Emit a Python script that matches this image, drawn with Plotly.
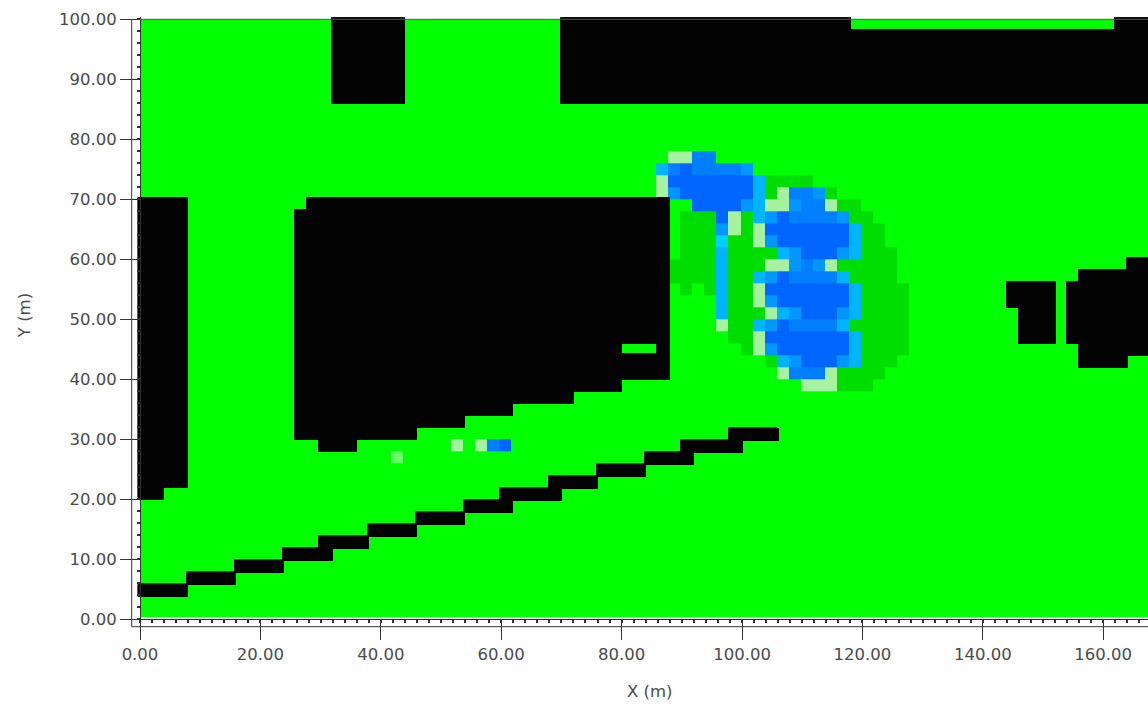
import numpy as np
import plotly.graph_objects as go

N_COLS = 84
N_ROWS = 50
CELL_X = 2.003
CELL_Y = 2.0
ORIGIN_X = -0.4
TOP_Y = 100.0

CLASS_NAMES = [".", "B", "G", "L", "P", "T", "C", "N", "M", "D"]
CLASS_COLORS = ["#00ff00", "#030303", "#00dd00", "#66ff66", "#a6f2a0",
                "#00d0ff", "#00b4ff", "#0098ff", "#0080ff", "#0066ff"]

# (first column, last column, first row, last row), rows counted from the top
BUILDING_BLOCKS = [
    (16, 21, 0, 6), (35, 83, 0, 6),
    (0, 3, 15, 38), (0, 1, 39, 39),
    (14, 43, 15, 15), (13, 14, 16, 34), (15, 17, 16, 35), (18, 22, 16, 34),
    (23, 26, 16, 33), (27, 30, 16, 32), (31, 35, 16, 31), (36, 39, 16, 30),
    (40, 43, 16, 29),
    (72, 75, 22, 23), (73, 75, 24, 26),
    (77, 77, 22, 26), (78, 81, 21, 28), (82, 83, 20, 27),
]
RAIL_BLOCKS = [
    (0, 3, 47, 47), (4, 7, 46, 46), (8, 11, 45, 45), (12, 15, 44, 44),
    (15, 18, 43, 43), (19, 22, 42, 42), (23, 26, 41, 41), (27, 30, 40, 40),
    (30, 34, 39, 39), (34, 37, 38, 38), (38, 41, 37, 37), (42, 45, 36, 36),
    (45, 49, 35, 35), (49, 52, 34, 34),
]
OPEN_BLOCKS = [(59, 80, 0, 0), (40, 42, 27, 27)]

# row: (class, first column, last column)
CELL_RUNS = {
    11: [("P", 44, 45), ("M", 46, 47)],
    12: [("C", 43, 43), ("M", 44, 44), ("D", 45, 45), ("M", 46, 49), ("N", 50, 50)],
    13: [("P", 43, 43), ("D", 44, 50), ("C", 51, 51), ("G", 52, 55)],
    14: [("P", 43, 43), ("N", 44, 44), ("D", 45, 50), ("C", 51, 51), ("G", 52, 52),
         ("P", 53, 53), ("M", 54, 55), ("N", 56, 56), ("G", 57, 57)],
    15: [("D", 46, 49), ("N", 50, 50), ("C", 51, 51), ("P", 52, 53), ("N", 54, 54),
         ("M", 55, 56), ("P", 57, 57), ("G", 58, 59)],
    16: [("G", 45, 47), ("D", 48, 48), ("P", 49, 49), ("G", 50, 50), ("C", 51, 51),
         ("N", 52, 52), ("D", 53, 53), ("M", 54, 57), ("N", 58, 58), ("G", 59, 60)],
    17: [("G", 45, 47), ("N", 48, 48), ("P", 49, 49), ("G", 50, 50), ("P", 51, 51),
         ("D", 52, 58), ("C", 59, 59), ("G", 60, 61)],
    18: [("G", 45, 47), ("T", 48, 48), ("G", 49, 50), ("P", 51, 51), ("N", 52, 52),
         ("D", 53, 58), ("C", 59, 59), ("G", 60, 61)],
    19: [("G", 45, 47), ("C", 48, 48), ("G", 49, 52), ("C", 53, 53), ("N", 54, 54),
         ("D", 55, 57), ("N", 58, 58), ("C", 59, 59), ("G", 60, 62)],
    20: [("G", 44, 47), ("C", 48, 48), ("G", 49, 51), ("P", 52, 53), ("N", 54, 54),
         ("M", 55, 55), ("N", 56, 56), ("P", 57, 57), ("G", 58, 62)],
    21: [("G", 44, 47), ("C", 48, 48), ("G", 49, 50), ("C", 51, 51), ("N", 52, 52),
         ("D", 53, 53), ("M", 54, 57), ("C", 58, 58), ("G", 59, 62)],
    22: [("G", 45, 45), ("G", 47, 47), ("C", 48, 48), ("G", 49, 50), ("P", 51, 51),
         ("D", 52, 58), ("C", 59, 59), ("G", 60, 63)],
    23: [("C", 48, 48), ("G", 49, 50), ("P", 51, 51), ("N", 52, 52), ("D", 53, 58),
         ("C", 59, 59), ("G", 60, 63)],
    24: [("C", 48, 48), ("G", 49, 51), ("P", 52, 52), ("C", 53, 53), ("N", 54, 54),
         ("D", 55, 57), ("N", 58, 58), ("C", 59, 59), ("G", 60, 63)],
    25: [("P", 48, 48), ("G", 49, 50), ("C", 51, 51), ("N", 52, 52), ("D", 53, 53),
         ("M", 54, 57), ("C", 58, 58), ("G", 59, 63)],
    26: [("G", 49, 50), ("P", 51, 51), ("D", 52, 58), ("C", 59, 59), ("G", 60, 63)],
    27: [("G", 50, 50), ("P", 51, 51), ("N", 52, 52), ("D", 53, 58), ("C", 59, 59),
         ("G", 60, 63)],
    28: [("G", 52, 52), ("C", 53, 53), ("N", 54, 54), ("D", 55, 57), ("N", 58, 58),
         ("C", 59, 59), ("G", 60, 62)],
    29: [("P", 53, 53), ("M", 54, 56), ("P", 57, 57), ("G", 58, 61)],
    30: [("P", 55, 57), ("G", 58, 60)],
    35: [("P", 26, 26), ("P", 28, 28), ("M", 29, 29), ("D", 30, 30)],
    36: [("L", 21, 21)],
}

X_TICKS = [0, 20, 40, 60, 80, 100, 120, 140, 160]
Y_TICKS = [0, 10, 20, 30, 40, 50, 60, 70, 80, 90, 100]


def paint(blocks):
    m = np.full((N_ROWS, N_COLS), np.nan)
    for c0, c1, r0, r1 in blocks:
        m[r0:r1 + 1, c0:c1 + 1] = 1.0
    for c0, c1, r0, r1 in OPEN_BLOCKS:
        m[r0:r1 + 1, c0:c1 + 1] = np.nan
    return m


building_mask = paint(BUILDING_BLOCKS)
rail_mask = paint(RAIL_BLOCKS)

black = CLASS_NAMES.index("B")
grid = np.zeros((N_ROWS, N_COLS))
grid[~np.isnan(building_mask)] = black
grid[~np.isnan(rail_mask)] = black
for row, runs in CELL_RUNS.items():
    for name, c0, c1 in runs:
        grid[row, c0:c1 + 1] = CLASS_NAMES.index(name)

x_edges = ORIGIN_X + CELL_X * np.arange(N_COLS + 1)
y_edges = TOP_Y - CELL_Y * np.arange(N_ROWS + 1)

main_x = x_edges.copy()
main_x[0] = 0
main_y = y_edges.copy()
main_y[-1] = 0.3

n = len(CLASS_COLORS)
scale = []
for i, col in enumerate(CLASS_COLORS):
    scale += [[i / n, col], [(i + 1) / n, col]]
solid = [[0, CLASS_COLORS[1]], [1, CLASS_COLORS[1]]]

fig = go.Figure()
fig.add_trace(go.Heatmap(z=grid[::-1], x=main_x, y=main_y[::-1], colorscale=scale,
                         zmin=-0.5, zmax=n - 0.5, showscale=False, hoverinfo="skip"))
for mask, dys in ((building_mask, (0.35, -0.17)), (rail_mask, (-0.17, -0.28))):
    for dx in (0.0, 0.33):
        for dy in dys:
            fig.add_trace(go.Heatmap(z=mask[::-1], x=x_edges + dx, y=y_edges[::-1] + dy,
                                     colorscale=solid, zmin=0, zmax=1, showscale=False,
                                     hoverinfo="skip"))

W, H = 1148, 707
LEFT = 130
X_ZERO = 140
TOP = 16.7
ZERO_PX = 619
PLOT_H = ZERO_PX - TOP
AX = "#333333"
FONT = dict(family="DejaVu Sans", size=16.5, color="#4a4a4a")


def px(v):
    return v / W


def py(v):
    return (ZERO_PX - v) / PLOT_H


fig.update_layout(
    width=W, height=H, autosize=False,
    margin=dict(l=0, r=0, t=TOP, b=H - ZERO_PX, pad=0, autoexpand=False),
    paper_bgcolor="white", plot_bgcolor="white",
    font=FONT, showlegend=False,
    xaxis=dict(domain=[LEFT / W, 1], range=[(LEFT - X_ZERO) / 6.02, (W - X_ZERO) / 6.02],
               tickmode="array", tickvals=X_TICKS, tickformat=".2f",
               ticks="outside", ticklen=20, tickwidth=1, tickcolor=AX,
               showline=True, linecolor=AX, linewidth=1, showgrid=False, zeroline=False,
               minor=dict(dtick=2, tick0=0, ticks="outside", ticklen=3, tickwidth=2,
                          tickcolor=AX, showgrid=False)),
    yaxis=dict(domain=[0, 1], range=[0, PLOT_H / 6.0], anchor="free", position=X_ZERO / W,
               tickmode="array", tickvals=Y_TICKS, tickformat=".2f",
               ticks="outside", ticklen=20, tickwidth=1, tickcolor=AX,
               showline=True, linecolor=AX, linewidth=1, showgrid=False, zeroline=False,
               minor=dict(dtick=2, tick0=0, ticks="outside", ticklen=3, tickwidth=2,
                          tickcolor=AX, showgrid=False)),
    shapes=[
        dict(type="line", xref="paper", yref="paper", x0=px(131.7), x1=px(131.7),
             y0=py(19), y1=py(626.7), line=dict(color=AX, width=1)),
        dict(type="line", xref="paper", yref="paper", x0=px(131.7), x1=1,
             y0=py(626.7), y1=py(626.7), line=dict(color=AX, width=1)),
        dict(type="line", xref="paper", yref="paper", x0=px(140), x1=1,
             y0=py(19), y1=py(19), line=dict(color="#555555", width=1)),
    ],
    annotations=[
        dict(text="X (m)", xref="paper", yref="paper", x=px(650), y=py(692),
             showarrow=False, xanchor="center", yanchor="middle", font=FONT),
        dict(text="Y (m)", xref="paper", yref="paper", x=px(24), y=py(316),
             showarrow=False, xanchor="center", yanchor="middle", textangle=-90, font=FONT),
    ],
)

fig.write_html("out.html", default_width=f"{W}px", default_height=f"{H}px",
               config={"displayModeBar": False},
               post_script="document.body.style.margin='0';document.documentElement.style.overflow='hidden';")
